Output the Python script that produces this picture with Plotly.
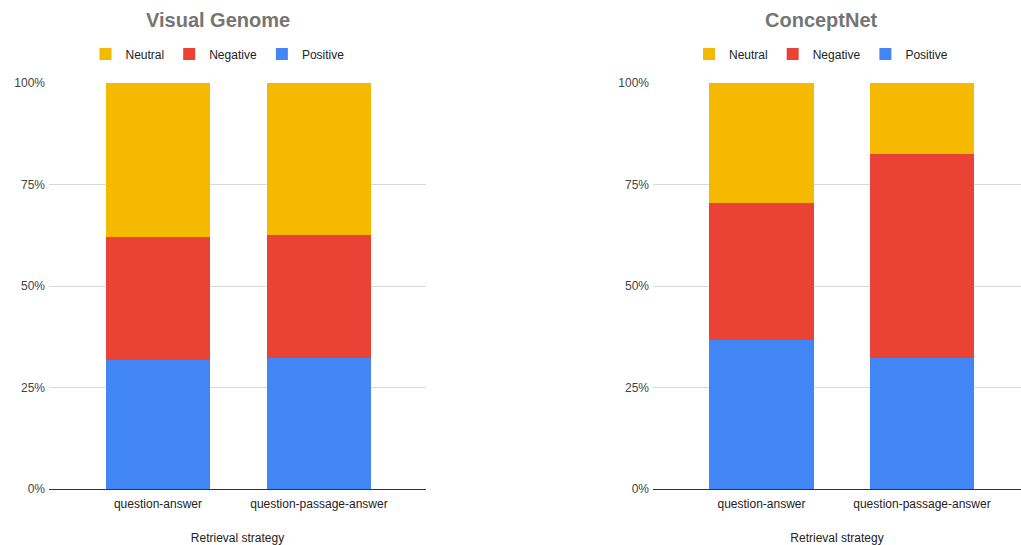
import plotly.graph_objects as go

categories = ["question-answer", "question-passage-answer"]
series_names = ["Positive", "Negative", "Neutral"]
colors = {"Positive": "#4285F4", "Negative": "#EA4335", "Neutral": "#F5B900"}

vg_positive = [31.8, 32.3]
vg_negative = [30.3, 30.3]
vg_neutral = [37.9, 37.4]

cn_positive = [36.7, 32.3]
cn_negative = [33.8, 50.1]
cn_neutral = [29.5, 17.6]

y_ticks = [0, 25, 50, 75, 100]
y_tick_labels = ["0%", "25%", "50%", "75%", "100%"]

panels = [
    ("Visual Genome", {"Positive": vg_positive, "Negative": vg_negative, "Neutral": vg_neutral}, "x", "y", "legend"),
    ("ConceptNet", {"Positive": cn_positive, "Negative": cn_negative, "Neutral": cn_neutral}, "x2", "y2", "legend2"),
]

FONT = "Arial, Liberation Sans, sans-serif"
W, H = 1021, 545

fig = go.Figure()
for title, data, xa, ya, lg in panels:
    for name in series_names:
        fig.add_trace(go.Bar(
            x=categories, y=data[name], name=name,
            marker=dict(color=colors[name], line=dict(width=0)),
            width=0.65, xaxis=xa, yaxis=ya, legend=lg,
        ))

y_dom = [1 - 489 / H, 1 - 83 / H]
common_x = dict(
    showgrid=False, showline=True, linecolor="#333333", linewidth=1,
    tickfont=dict(family=FONT, size=12, color="#222222"),
    ticks="", zeroline=False, fixedrange=True, automargin=False,
    ticklabelstandoff=4,
    title=dict(text="Retrieval strategy", font=dict(family=FONT, size=12, color="#222222"), standoff=24),
)
common_y = dict(
    range=[0, 100], tickvals=y_ticks, ticktext=y_tick_labels,
    showgrid=True, gridcolor="#d9d9d9", gridwidth=1, zeroline=False,
    tickfont=dict(family=FONT, size=12, color="#444444"),
    domain=y_dom, ticks="", fixedrange=True, automargin=False,
    ticklabelstandoff=3,
)

fig.update_layout(
    width=W, height=H,
    margin=dict(l=0, r=0, t=0, b=0, autoexpand=False),
    paper_bgcolor="white", plot_bgcolor="white",
    barmode="stack", bargap=0.35,
    font=dict(family=FONT, size=12, color="#222222"),
    xaxis=dict(domain=[49 / W, 426 / W], range=[-0.677, 1.665], anchor="y", **common_x),
    xaxis2=dict(domain=[653 / W, 1.0], range=[-0.676, 1.617], anchor="y2", **common_x),
    yaxis=dict(anchor="x", **common_y),
    yaxis2=dict(anchor="x2", **common_y),
    legend=dict(orientation="h", x=217.5 / W, xanchor="center", y=1 - 54 / H, yanchor="middle",
                traceorder="reversed", font=dict(family=FONT, size=12, color="#222222"),
                bgcolor="rgba(0,0,0,0)"),
    legend2=dict(orientation="h", x=821 / W, xanchor="center", y=1 - 54 / H, yanchor="middle",
                 traceorder="reversed", font=dict(family=FONT, size=12, color="#222222"),
                 bgcolor="rgba(0,0,0,0)"),
    annotations=[
        dict(text="<b>Visual Genome</b>", x=218 / W, y=1 - 20 / H, xref="paper", yref="paper",
             xanchor="center", yanchor="middle", showarrow=False,
             font=dict(family=FONT, size=20, color="#757575")),
        dict(text="<b>ConceptNet</b>", x=821 / W, y=1 - 20 / H, xref="paper", yref="paper",
             xanchor="center", yanchor="middle", showarrow=False,
             font=dict(family=FONT, size=20, color="#757575")),
    ],
)

fig.write_html("out.html")
